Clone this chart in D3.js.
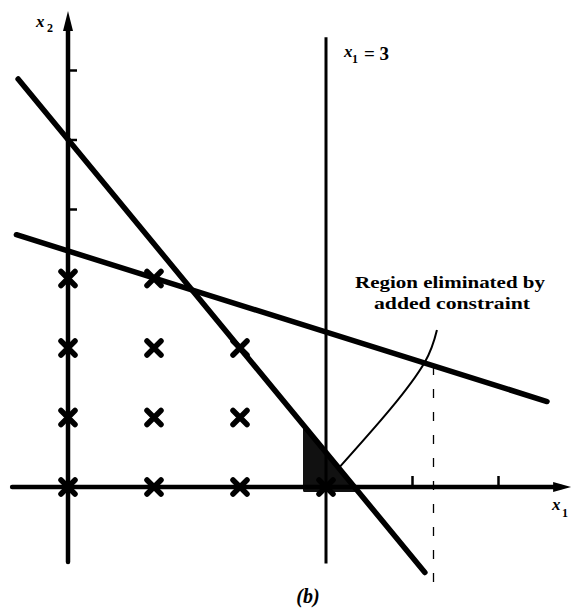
<!DOCTYPE html>
<html>
<head>
<meta charset="utf-8">
<script src="https://cdn.jsdelivr.net/npm/d3@7"></script>
<style>
  body { margin: 0; background: #fff; }
  svg { display: block; }
  .lbl { font-family: "Liberation Serif", "DejaVu Serif", serif; font-weight: bold; fill: #000; }
</style>
</head>
<body>
<div id="chart"></div>
<script>
// integer points of the feasible region (x1, x2)
const integerPoints = [
  [0, 0], [1, 0], [2, 0], [3, 0],
  [0, 1], [1, 1], [2, 1],
  [0, 2], [1, 2], [2, 2],
  [0, 3], [1, 3]
];

// constraint lines, endpoints in (x1, x2)
const steepLine = [[-0.58, 5.87], [4.15, -1.23]];
const shallowLine = [[-0.6, 3.63], [5.57, 1.23]];
const addedConstraint = [[3, 6.47], [3, -1.1]];
const dashedGuide = [[4.25, 1.74], [4.25, -1.55]];

// region cut off by x1 <= 3 (shaded corner)
const eliminatedRegion = [[2.75, -0.05], [3.35, -0.05], [2.75, 0.85]];

// leader from the annotation to the cut-off corner
const leaderCurve = [[4.29, 2.26], [4.15, 1.8], [3.74, 1.11], [3.16, 0.29]];

// tick marks that are drawn on the axes
const x1Ticks = [4, 5];
const x2Ticks = [4, 5, 6];

// axis extents
const x1Extent = [-0.65, 5.85];
const x2Extent = [-1.08, 6.85];

const width = 580, height = 612;

const svg = d3.select('#chart').append('svg')
  .attr('width', width)
  .attr('height', height);

const x = d3.scaleLinear().domain([0, 5]).range([68, 498]);
const y = d3.scaleLinear().domain([0, 6]).range([487, 70]);

const line = d3.line().x(d => x(d[0])).y(d => y(d[1]));

// dark blob at the eliminated corner
svg.append('path')
  .attr('d', line(eliminatedRegion) + 'Z')
  .attr('fill', '#111')
  .attr('stroke', '#111').attr('stroke-width', 3).attr('stroke-linejoin', 'round');

// axes (drawn by hand so they can run past the origin)
svg.append('line')
  .attr('x1', x(x1Extent[0])).attr('x2', x(x1Extent[1]) - 10)
  .attr('y1', y(0)).attr('y2', y(0))
  .attr('stroke', '#000').attr('stroke-width', 4.5).attr('stroke-linecap', 'round');

svg.append('line')
  .attr('x1', x(0)).attr('x2', x(0))
  .attr('y1', y(x2Extent[0])).attr('y2', y(x2Extent[1]) + 12)
  .attr('stroke', '#000').attr('stroke-width', 4.5).attr('stroke-linecap', 'round');

// arrow heads
const xTip = x(x1Extent[1]);
svg.append('path')
  .attr('d', `M${xTip},${y(0)} L${xTip - 18},${y(0) - 5} L${xTip - 18},${y(0) + 5} Z`)
  .attr('fill', '#000');
const yTip = y(x2Extent[1]);
svg.append('path')
  .attr('d', `M${x(0)},${yTip} L${x(0) - 5},${yTip + 20} L${x(0) + 5},${yTip + 20} Z`)
  .attr('fill', '#000');

// ticks
const xAxis = svg.append('g')
  .attr('transform', `translate(0,${y(0)})`)
  .call(d3.axisTop(x).tickValues(x1Ticks).tickSize(11).tickSizeOuter(0).tickFormat(''));
xAxis.select('.domain').remove();
xAxis.selectAll('.tick line').attr('stroke-width', 2.5);

const yAxis = svg.append('g')
  .attr('transform', `translate(${x(0)},0)`)
  .call(d3.axisRight(y).tickValues(x2Ticks).tickSize(9).tickSizeOuter(0).tickFormat(''));
yAxis.select('.domain').remove();
yAxis.selectAll('.tick line').attr('stroke-width', 2.5);

// constraint x1 = 3
svg.append('path')
  .attr('d', line(addedConstraint))
  .attr('stroke', '#000').attr('stroke-width', 3).attr('fill', 'none');

// dashed guide
svg.append('path')
  .attr('d', line(dashedGuide))
  .attr('stroke', '#000').attr('stroke-width', 1.3)
  .attr('stroke-dasharray', '9,14').attr('fill', 'none');

// original constraints
[steepLine, shallowLine].forEach(seg => {
  svg.append('path')
    .attr('d', line(seg))
    .attr('stroke', '#000').attr('stroke-width', 5.5)
    .attr('stroke-linecap', 'round').attr('fill', 'none');
});

// leader curve
svg.append('path')
  .attr('d', d3.line().x(d => x(d[0])).y(d => y(d[1])).curve(d3.curveNatural)(leaderCurve))
  .attr('stroke', '#000').attr('stroke-width', 2).attr('fill', 'none');

// integer points as crosses
const r = 7;
svg.append('g').selectAll('path')
  .data(integerPoints)
  .join('path')
  .attr('d', d => {
    const cx = x(d[0]), cy = y(d[1]);
    return `M${cx - r},${cy - r}L${cx + r},${cy + r}M${cx + r},${cy - r}L${cx - r},${cy + r}`;
  })
  .attr('stroke', '#000').attr('stroke-width', 5.5).attr('stroke-linecap', 'round');

// labels
svg.append('text').attr('class', 'lbl')
  .attr('x', 36).attr('y', 27).attr('font-size', 17).attr('font-style', 'italic').text('x');
svg.append('text').attr('class', 'lbl')
  .attr('x', 47).attr('y', 32).attr('font-size', 12).text('2');

svg.append('text').attr('class', 'lbl')
  .attr('x', 344).attr('y', 57).attr('font-size', 17).attr('font-style', 'italic').text('x');
svg.append('text').attr('class', 'lbl')
  .attr('x', 352).attr('y', 63).attr('font-size', 12).text('1');
svg.append('text').attr('class', 'lbl')
  .attr('x', 364).attr('y', 60).attr('font-size', 19).text('= 3');

svg.append('text').attr('class', 'lbl')
  .attr('x', 552).attr('y', 510).attr('font-size', 17).attr('font-style', 'italic').text('x');
svg.append('text').attr('class', 'lbl')
  .attr('x', 562).attr('y', 517).attr('font-size', 12).text('1');

svg.append('text').attr('class', 'lbl')
  .attr('x', 355).attr('y', 288).attr('font-size', 17)
  .attr('textLength', 190).attr('lengthAdjust', 'spacingAndGlyphs')
  .text('Region eliminated by');
svg.append('text').attr('class', 'lbl')
  .attr('x', 374).attr('y', 309).attr('font-size', 17)
  .attr('textLength', 156).attr('lengthAdjust', 'spacingAndGlyphs')
  .text('added constraint');

svg.append('text').attr('class', 'lbl')
  .attr('x', 308).attr('y', 603).attr('font-size', 20).attr('font-style', 'italic')
  .attr('text-anchor', 'middle').text('(b)');
</script>
</body>
</html>
